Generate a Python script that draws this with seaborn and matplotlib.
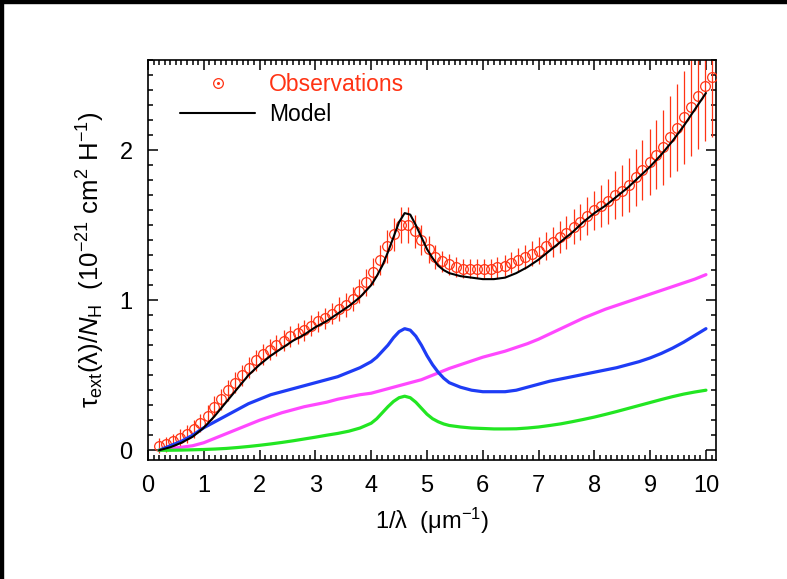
import matplotlib
matplotlib.use("Agg")
import matplotlib.pyplot as plt
from matplotlib.lines import Line2D
from matplotlib.patches import Rectangle
from matplotlib.legend_handler import HandlerTuple
from matplotlib.ticker import MultipleLocator
import seaborn as sns
import pandas as pd

# Observed extinction curve (1/lambda in um^-1, tau/N_H in 1e-21 cm^2/H)
obs_x = [0.20, 0.32, 0.45, 0.57, 0.70, 0.82, 0.94, 1.07, 1.19, 1.31,
         1.44, 1.56, 1.69, 1.81, 1.93, 2.06, 2.18, 2.30, 2.43, 2.55,
         2.68, 2.80, 2.92, 3.05, 3.17, 3.29, 3.42, 3.54, 3.67, 3.79,
         3.91, 4.04, 4.16, 4.28, 4.41, 4.53, 4.66, 4.78, 4.90, 5.03,
         5.15, 5.27, 5.40, 5.52, 5.65, 5.77, 5.89, 6.02, 6.14, 6.26,
         6.39, 6.51, 6.64, 6.76, 6.88, 7.01, 7.13, 7.25, 7.38, 7.50,
         7.63, 7.75, 7.87, 8.00, 8.12, 8.24, 8.37, 8.49, 8.62, 8.74,
         8.86, 8.99, 9.11, 9.23, 9.36, 9.48, 9.61, 9.73, 9.85, 9.98,
         10.10]
obs_y = [0.03, 0.04, 0.06, 0.08, 0.11, 0.14, 0.18, 0.23, 0.29, 0.34,
         0.40, 0.45, 0.50, 0.55, 0.60, 0.64, 0.67, 0.70, 0.73, 0.76,
         0.78, 0.80, 0.83, 0.86, 0.88, 0.91, 0.94, 0.97, 1.01, 1.06,
         1.12, 1.19, 1.27, 1.36, 1.44, 1.50, 1.50, 1.46, 1.40, 1.34,
         1.29, 1.26, 1.24, 1.22, 1.21, 1.21, 1.21, 1.21, 1.21, 1.22,
         1.23, 1.25, 1.27, 1.29, 1.31, 1.33, 1.36, 1.39, 1.42, 1.45,
         1.49, 1.52, 1.56, 1.60, 1.63, 1.66, 1.70, 1.73, 1.77, 1.82,
         1.87, 1.92, 1.97, 2.02, 2.09, 2.15, 2.22, 2.29, 2.36, 2.43,
         2.49]
obs_err = [0.05, 0.05, 0.05, 0.06, 0.06, 0.06, 0.06, 0.07, 0.07, 0.07,
           0.07, 0.07, 0.07, 0.07, 0.07, 0.07, 0.07, 0.07, 0.07, 0.07,
           0.07, 0.07, 0.07, 0.07, 0.07, 0.07, 0.08, 0.08, 0.08, 0.08,
           0.09, 0.09, 0.10, 0.11, 0.11, 0.12, 0.12, 0.11, 0.10, 0.09,
           0.08, 0.07, 0.07, 0.065, 0.065, 0.065, 0.065, 0.065, 0.065, 0.07,
           0.07, 0.07, 0.075, 0.08, 0.085, 0.09, 0.095, 0.10, 0.105, 0.11,
           0.115, 0.12, 0.125, 0.13, 0.14, 0.15, 0.16, 0.17, 0.18, 0.19,
           0.20, 0.22, 0.23, 0.25, 0.27, 0.29, 0.31, 0.33, 0.35, 0.37,
           0.40]

# Model curve and its three components
model_x = [0.2, 0.4, 0.6, 0.8, 1.0, 1.2, 1.4, 1.6, 1.8, 2.0,
           2.2, 2.4, 2.6, 2.8, 3.0, 3.2, 3.4, 3.6, 3.8, 4.0,
           4.1, 4.2, 4.3, 4.4, 4.5, 4.6, 4.7, 4.8, 4.9, 5.0,
           5.1, 5.2, 5.3, 5.4, 5.6, 5.8, 6.0, 6.2, 6.4, 6.6,
           6.8, 7.0, 7.2, 7.4, 7.6, 7.8, 8.0, 8.2, 8.4, 8.6,
           8.8, 9.0, 9.2, 9.4, 9.6, 9.8, 10.0]
model_total = [0.00, 0.02, 0.05, 0.09, 0.15, 0.23, 0.32, 0.41, 0.50, 0.57,
               0.63, 0.68, 0.73, 0.77, 0.82, 0.86, 0.91, 0.96, 1.02, 1.10,
               1.16, 1.23, 1.32, 1.42, 1.52, 1.58, 1.57, 1.50, 1.42, 1.34,
               1.28, 1.23, 1.20, 1.18, 1.16, 1.15, 1.14, 1.14, 1.15, 1.18,
               1.22, 1.27, 1.33, 1.39, 1.45, 1.52, 1.58, 1.63, 1.69, 1.75,
               1.82, 1.89, 1.97, 2.06, 2.16, 2.27, 2.38]
comp_blue = [0.00, 0.03, 0.06, 0.10, 0.15, 0.19, 0.23, 0.27, 0.31, 0.34,
             0.37, 0.39, 0.41, 0.43, 0.45, 0.47, 0.49, 0.52, 0.55, 0.59,
             0.62, 0.66, 0.70, 0.75, 0.79, 0.81, 0.80, 0.76, 0.70, 0.63,
             0.57, 0.52, 0.48, 0.45, 0.42, 0.40, 0.39, 0.39, 0.39, 0.40,
             0.42, 0.44, 0.46, 0.475, 0.49, 0.505, 0.52, 0.535, 0.55, 0.57,
             0.59, 0.615, 0.645, 0.68, 0.72, 0.765, 0.81]
comp_magenta = [0.00, 0.01, 0.02, 0.03, 0.05, 0.08, 0.11, 0.14, 0.17, 0.20,
                0.225, 0.25, 0.27, 0.29, 0.305, 0.32, 0.34, 0.355, 0.37, 0.38,
                0.39, 0.40, 0.41, 0.42, 0.43, 0.44, 0.45, 0.46, 0.47, 0.485,
                0.50, 0.515, 0.53, 0.545, 0.57, 0.595, 0.62, 0.64, 0.66, 0.685,
                0.71, 0.74, 0.775, 0.81, 0.845, 0.88, 0.91, 0.94, 0.965, 0.99,
                1.015, 1.04, 1.065, 1.09, 1.115, 1.14, 1.17]
comp_green = [0.000, 0.000, 0.001, 0.003, 0.005, 0.008, 0.012, 0.018, 0.025, 0.033,
              0.042, 0.052, 0.063, 0.075, 0.087, 0.100, 0.112, 0.127, 0.148, 0.180,
              0.210, 0.250, 0.290, 0.325, 0.350, 0.360, 0.350, 0.320, 0.280, 0.240,
              0.210, 0.190, 0.175, 0.165, 0.155, 0.148, 0.145, 0.142, 0.142, 0.143,
              0.148, 0.155, 0.165, 0.176, 0.190, 0.205, 0.221, 0.239, 0.258, 0.278,
              0.298, 0.318, 0.338, 0.357, 0.374, 0.388, 0.400]

RED = "#ff3314"
BLUE = "#1e3cf5"
MAGENTA = "#ff48ff"
GREEN = "#22e622"

sns.set_theme(style="ticks")
plt.rcParams["font.family"] = ["Liberation Sans", "DejaVu Sans"]
plt.rcParams["mathtext.fontset"] = "custom"
plt.rcParams["mathtext.rm"] = "Liberation Sans"
plt.rcParams["mathtext.it"] = "Liberation Sans:italic"
plt.rcParams["mathtext.bf"] = "Liberation Sans:bold"
for key in ("text.color", "axes.labelcolor", "xtick.color", "ytick.color",
            "xtick.labelcolor", "ytick.labelcolor"):
    plt.rcParams[key] = "black"

fig = plt.figure(figsize=(7.87, 5.79), dpi=100)
ax = fig.add_axes([148 / 787, 1 - 460 / 579, 568 / 787, 400 / 579])

obs = pd.DataFrame({"x": obs_x, "y": obs_y, "err": obs_err})
model = pd.DataFrame({"x": model_x, "total": model_total, "blue": comp_blue,
                      "magenta": comp_magenta, "green": comp_green})

# observations: vertical error bars plus open circles
ax.errorbar(obs["x"], obs["y"], yerr=obs["err"], fmt="none",
            ecolor=RED, elinewidth=0.9, capsize=0, zorder=2)
sns.lineplot(data=obs, x="x", y="y", ax=ax, estimator=None, sort=False,
             linestyle="none", marker="o", markersize=7,
             markerfacecolor="none", markeredgecolor=RED,
             markeredgewidth=0.9, zorder=3)

# model components
for col, c in (("magenta", MAGENTA), ("blue", BLUE), ("green", GREEN)):
    sns.lineplot(data=model, x="x", y=col, ax=ax, estimator=None, sort=False,
                 color=c, linewidth=2.3, zorder=4)
sns.lineplot(data=model, x="x", y="total", ax=ax, estimator=None, sort=False,
             color="black", linewidth=1.5, zorder=5)

ax.set_xlim(0, 10.18)
ax.set_ylim(-0.065, 2.6)
ax.xaxis.set_major_locator(MultipleLocator(1))
ax.xaxis.set_minor_locator(MultipleLocator(0.1))
ax.yaxis.set_major_locator(MultipleLocator(1))
ax.yaxis.set_minor_locator(MultipleLocator(0.1))
ax.tick_params(which="both", direction="in", top=True, right=True,
               width=1.1, color="black")
ax.tick_params(which="major", length=7, labelsize=17, pad=11)
ax.tick_params(which="minor", length=3.5)
ax.tick_params(axis="y", which="major", pad=11)
for s in ax.spines.values():
    s.set_linewidth(1.2)
    s.set_color("black")

ax.set_xlabel(r"1/$\mathrm{\lambda}$  ($\mathrm{\mu}$m$^{-1}$)", fontsize=17,
              labelpad=6)
ax.set_ylabel(r"$\mathrm{\tau_{ext}(\lambda)/}N_{\mathrm{H}}$  (10$^{-21}$ cm$^{2}$ H$^{-1}$)",
              fontsize=18.5, labelpad=9)

# legend
h_obs = (Line2D([], [], linestyle="none", marker="o", markersize=7,
                markerfacecolor="none", markeredgecolor=RED, markeredgewidth=0.9),
         Line2D([], [], linestyle="none", marker="o", markersize=1.2,
                markerfacecolor=RED, markeredgecolor=RED))
h_mod = Line2D([], [], color="black", linewidth=1.5)
leg = ax.legend([h_obs, h_mod], ["Observations", "Model"],
                handler_map={tuple: HandlerTuple(ndivide=1)},
                loc="upper left", bbox_to_anchor=(0.056, 0.967),
                frameon=False, fontsize=16.5, handlelength=3.3,
                handletextpad=0.6, borderpad=0, borderaxespad=0,
                labelspacing=0.3)
leg.get_texts()[0].set_color(RED)

# black strips along the top and left edges of the image
fig.patches.append(Rectangle((0, 1 - 3 / 579), 1, 3 / 579, transform=fig.transFigure,
                             color="black", zorder=10))
fig.patches.append(Rectangle((0, 0), 3 / 787, 1, transform=fig.transFigure,
                             color="black", zorder=10))

fig.savefig("out.png", dpi=100)
